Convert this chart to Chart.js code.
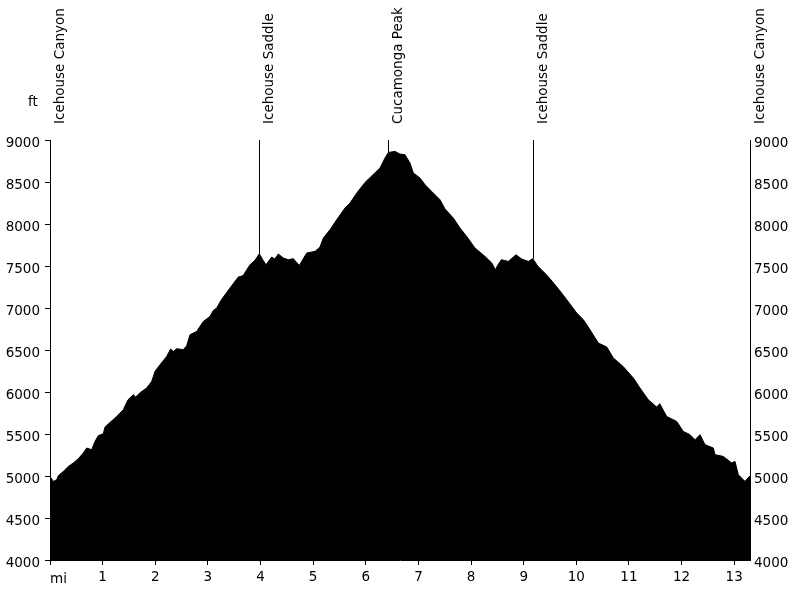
<!DOCTYPE html>
<html>
<head>
<meta charset="utf-8">
<script src="https://cdn.jsdelivr.net/npm/chart.js@4/dist/chart.umd.min.js"></script>
<style>
  body { margin: 0; background: #fff; }
</style>
</head>
<body>
<canvas id="profile" width="800" height="600"></canvas>
<script>
// distance along the trail (mi) and elevation (ft)
const miles = [
  0, 0.063, 0.127, 0.158, 0.253, 0.348, 0.443, 0.538, 0.633, 0.697, 0.792, 0.855, 0.918,
  1.013, 1.045, 1.14, 1.267, 1.393, 1.482, 1.583, 1.628, 1.704, 1.837, 1.932, 1.995,
  2.09, 2.217, 2.293, 2.343, 2.407, 2.533, 2.597, 2.66, 2.787, 2.913,
  3.04, 3.103, 3.167, 3.257, 3.42, 3.578, 3.667, 3.8, 3.895, 3.977,
  4.041, 4.104, 4.212, 4.27, 4.338, 4.433, 4.528, 4.623, 4.737, 4.878,
  5.035, 5.13, 5.193, 5.32, 5.447, 5.605, 5.7, 5.828, 5.985,
  6.137, 6.27, 6.365, 6.428, 6.555, 6.65, 6.745, 6.84, 6.903,
  7.03, 7.125, 7.253, 7.41, 7.505, 7.663, 7.79, 7.917,
  8.075, 8.265, 8.393, 8.463, 8.512, 8.577, 8.708, 8.854, 8.963,
  9.088, 9.172, 9.272, 9.433, 9.623, 9.818,
  10.008, 10.133, 10.26, 10.418, 10.578, 10.703, 10.888,
  11.083, 11.209, 11.368, 11.527, 11.585, 11.717, 11.907,
  12.033, 12.16, 12.255, 12.35, 12.445, 12.603, 12.635, 12.793, 12.953,
  13.015, 13.078, 13.205, 13.287, 13.3
];
const elevation = [
  4995, 4936, 4956, 5003, 5055, 5114, 5155, 5206, 5274, 5333, 5313, 5412, 5480,
  5504, 5583, 5638, 5709, 5789, 5908, 5968, 5940, 5988, 6048, 6126, 6245,
  6325, 6424, 6512, 6483, 6515, 6504, 6551, 6682, 6721, 6840,
  6900, 6971, 7000, 7099, 7238, 7369, 7385, 7515, 7567, 7646,
  7575, 7515, 7607, 7583, 7643, 7595, 7575, 7587, 7507, 7655,
  7674, 7726, 7833, 7932, 8051, 8190, 8250, 8369, 8495,
  8587, 8667, 8786, 8852, 8864, 8833, 8825, 8726, 8607,
  8548, 8468, 8388, 8289, 8179, 8071, 7952, 7852,
  7714, 7614, 7536, 7456, 7515, 7575, 7555, 7634, 7583,
  7555, 7587, 7495, 7396, 7257, 7099,
  6940, 6861, 6742, 6583, 6536, 6405, 6305,
  6167, 6048, 5908, 5821, 5861, 5709, 5650,
  5531, 5492, 5432, 5492, 5373, 5333, 5254, 5233, 5155,
  5174, 5015, 4936, 4995, 5000
];

// named waypoints shown above the plot
const waypointNames = ['Icehouse Canyon', 'Icehouse Saddle', 'Cucamonga Peak', 'Icehouse Saddle', 'Icehouse Canyon'];
const waypointMiles = [0, 3.98, 6.43, 9.17, 13.3];

const xTicks = [0, 1, 2, 3, 4, 5, 6, 7, 8, 9, 10, 11, 12, 13];
const totalMiles = 13.3;
const yMin = 4000;
const yMax = 9000;
const yStep = 500;

Chart.defaults.font.family = '"DejaVu Sans", sans-serif';
Chart.defaults.font.size = 13.5;
Chart.defaults.color = '#000';

// elevation at a given mile, taken from the nearest sample
function elevAt(m) {
  let best = 0;
  for (let i = 1; i < miles.length; i++) {
    if (Math.abs(miles[i] - m) < Math.abs(miles[best] - m)) best = i;
  }
  return elevation[best];
}

const waypoints = {
  id: 'waypoints',
  afterDraw(chart) {
    const ctx = chart.ctx;
    const xs = chart.scales.x;
    const ys = chart.scales.y;
    const top = chart.chartArea.top;
    ctx.save();
    ctx.font = Chart.defaults.font.size + 'px ' + Chart.defaults.font.family;
    ctx.fillStyle = '#000';
    ctx.strokeStyle = '#000';
    ctx.lineWidth = 1;
    waypointNames.forEach((name, i) => {
      const px = Math.round(xs.getPixelForValue(waypointMiles[i])) + 0.5;
      const py = ys.getPixelForValue(elevAt(waypointMiles[i]));
      ctx.beginPath();
      ctx.moveTo(px, top);
      ctx.lineTo(px, py);
      ctx.stroke();
      ctx.save();
      ctx.translate(px + 13, 124);
      ctx.rotate(-Math.PI / 2);
      ctx.textAlign = 'left';
      ctx.textBaseline = 'alphabetic';
      ctx.fillText(name, 0, 0);
      ctx.restore();
    });
    // unit labels
    ctx.textAlign = 'left';
    ctx.textBaseline = 'alphabetic';
    ctx.fillText('ft', 28, 106);
    ctx.fillText('mi', 50, 583);
    ctx.restore();
  }
};

const ctx = document.getElementById('profile').getContext('2d');

new Chart(ctx, {
  type: 'line',
  data: {
    datasets: [{
      data: miles.map((m, i) => ({ x: m, y: elevation[i] })),
      fill: 'start',
      backgroundColor: '#000',
      borderColor: '#000',
      borderWidth: 1,
      pointRadius: 0,
      tension: 0
    }]
  },
  options: {
    responsive: false,
    animation: false,
    layout: { padding: { top: 140, left: 0, right: 0, bottom: 0 } },
    plugins: {
      legend: { display: false },
      tooltip: { enabled: false }
    },
    scales: {
      x: {
        type: 'linear',
        position: 'bottom',
        min: 0,
        max: totalMiles,
        afterBuildTicks: s => { s.ticks = xTicks.map(v => ({ value: v })); },
        afterFit: s => { s.height = 40; },
        ticks: {
          callback: v => (v === 0 ? '' : String(v)),
          maxRotation: 0,
          autoSkip: false,
          padding: 4
        },
        grid: { drawOnChartArea: false, tickLength: 5, color: '#000' },
        border: { color: '#000' }
      },
      y: {
        position: 'left',
        min: yMin,
        max: yMax,
        afterFit: s => { s.width = 50; },
        ticks: { stepSize: yStep, padding: 5, labelOffset: 3, callback: v => String(v) },
        grid: { drawOnChartArea: false, tickLength: 5, color: '#000' },
        border: { color: '#000' }
      },
      y2: {
        position: 'right',
        min: yMin,
        max: yMax,
        afterFit: s => { s.width = 50; },
        ticks: { stepSize: yStep, padding: 4, labelOffset: 3, callback: v => String(v) },
        grid: { drawOnChartArea: false, drawTicks: false, color: '#000' },
        border: { color: '#000' }
      }
    }
  },
  plugins: [waypoints]
});
</script>
</body>
</html>
